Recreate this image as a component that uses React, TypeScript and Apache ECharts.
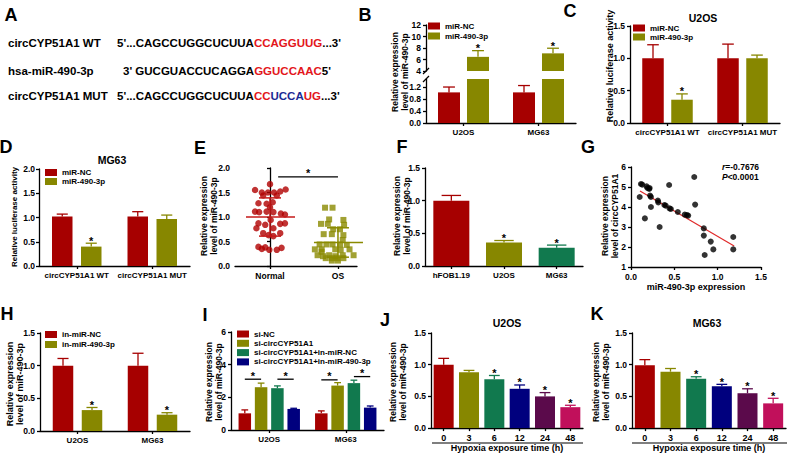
import React, { useEffect, useRef } from 'react';
import * as echarts from 'echarts';

const FONT = '"Liberation Sans", Arial, Helvetica, sans-serif';

// ---------------- Panel A: sequences ----------------
const seqRowLabels = ['circCYP51A1 WT', 'hsa-miR-490-3p', 'circCYP51A1 MUT'];
const seqRows: [string, string][][] = [
  [["5'...CAGCCUGGCUCUUA", 'k'], ['CCAGGUUG', 'r'], ["...3'", 'k']],
  [["3' GUCGUACCUCAGGA", 'k'], ['GGUCCAAC', 'r'], ["5'", 'k']],
  [["5'...CAGCCUGGCUCUUA", 'k'], ['CC', 'r'], ['UCCA', 'b'], ['UG', 'r'], ["...3'", 'k']],
];

// ---------------- Panel B ----------------
const bCats = ['U2OS', 'MG63'];
const bNC = [1.03, 1.03];
const bNCErr = [1.21, 1.26];
const b490 = [6.46, 7.07];
const b490Err = [7.54, 7.96];
const b490Sig = [1, 1];
const bUpperTicks = [4, 12, 2];
const bLowerTicks = [0, 0.4, 0.8, 1.2];

// ---------------- Panel C / D ----------------
const lucCats = ['circCYP51A1 WT', 'circCYP51A1 MUT'];
const cNC = [1.0, 1.0];
const cNCErr = [1.21, 1.22];
const c490 = [0.36, 1.0];
const c490Err = [0.45, 1.05];
const c490Sig = [1, 0];
const dNC = [1.02, 1.02];
const dNCErr = [1.07, 1.12];
const d490 = [0.4, 0.97];
const d490Err = [0.47, 1.05];
const d490Sig = [1, 0];

// ---------------- Panel E (offset within group, value) ----------------
const eCats = ['Normal', 'OS'];
const eNormal: [number, number][] = [
  [0.0, 1.67], [-0.22, 1.55], [-0.12, 1.5], [-0.03, 1.5], [0.06, 1.5], [0.15, 1.52], [0.23, 1.56],
  [-0.1, 1.44], [0.1, 1.44], [-0.17, 1.28], [-0.05, 1.27], [0.04, 1.3], [-0.22, 1.11], [-0.16, 1.1],
  [-0.05, 1.11], [0.05, 1.1], [0.16, 1.07], [0.0, 1.2], [0.22, 1.05], [-0.17, 0.87], [-0.07, 0.84],
  [0.15, 0.86], [0.22, 0.87], [-0.2, 0.77], [0.05, 0.77], [-0.1, 0.67], [0.15, 0.67], [-0.02, 0.63],
  [0.05, 0.61], [-0.17, 0.39], [-0.07, 0.38], [-0.12, 0.35], [-0.01, 0.33], [0.1, 0.33], [0.17, 0.37],
  [0.01, 0.94],
];
const eOS: [number, number][] = [
  [-0.19, 1.19], [-0.08, 1.19], [-0.13, 0.95], [0.08, 0.94], [-0.25, 0.86], [-0.15, 0.86], [0.09, 0.84],
  [-0.07, 0.75], [0.03, 0.75], [-0.21, 0.65], [-0.09, 0.65], [0.08, 0.63], [0.07, 0.53], [-0.27, 0.44],
  [-0.17, 0.44], [-0.08, 0.44], [0.03, 0.44], [0.13, 0.43], [-0.34, 0.34], [-0.24, 0.34], [-0.04, 0.34],
  [0.04, 0.33], [0.17, 0.34], [-0.3, 0.22], [-0.22, 0.2], [-0.13, 0.22], [-0.04, 0.2], [0.07, 0.22],
  [0.23, 0.22], [-0.18, 0.16], [-0.09, 0.16], [-0.01, 0.16], [0.08, 0.16], [-0.09, 0.11], [0.0, 0.11],
  [-0.24, 0.29],
];
const eMeanSD: [number, number, number][] = [[0, 1.0, 0.39], [1, 0.48, 0.3]];
const eSigBar: [number, number, number][] = [[0.12, 1.0, 1.82]];

// ---------------- Panel F ----------------
const fCats = ['hFOB1.19', 'U2OS', 'MG63'];
const fVals = [1.0, 0.36, 0.28];
const fErr = [1.08, 0.39, 0.32];
const fSig = [0, 1, 1];

// ---------------- Panel G ----------------
const gPoints: [number, number][] = [
  [0.1, 4.5], [0.115, 5.15], [0.13, 5.12], [0.16, 3.43], [0.18, 5.03], [0.19, 4.95], [0.21, 4.9],
  [0.215, 4.95], [0.22, 4.57], [0.23, 4.5], [0.23, 4.0], [0.31, 4.32], [0.315, 4.23], [0.33, 3.0],
  [0.385, 4.1], [0.4, 4.07], [0.44, 5.1], [0.445, 3.93], [0.46, 3.9], [0.54, 3.75], [0.62, 3.62],
  [0.645, 3.6], [0.66, 3.57], [0.73, 5.5], [0.74, 4.12], [0.84, 2.93], [0.84, 2.57], [0.85, 1.6],
  [0.92, 2.27], [0.95, 1.88], [1.18, 2.5], [1.18, 1.88],
];
const gFit: [number, number][] = [[0.104, 4.8], [1.19, 2.05]];
const gStats = ['{i|r}=-0.7676', '{i|P}<0.0001'];

// ---------------- Panel H ----------------
const hNC = [1.0, 1.0];
const hNCErr = [1.11, 1.19];
const h490 = [0.32, 0.25];
const h490Err = [0.36, 0.28];
const h490Sig = [1, 1];

// ---------------- Panel I ----------------
const iNames = ['si-NC', 'si-circCYP51A1', 'si-circCYP51A1+in-miR-NC', 'si-circCYP51A1+in-miR-490-3p'];
const iVals = [[1.02, 1.02], [2.62, 2.72], [2.56, 2.87], [1.29, 1.37]];
const iErr = [[1.23, 1.17], [2.87, 2.9], [2.7, 3.05], [1.33, 1.47]];
const iBrackets: [number, number, number, number][] = [[0, 0, 1, 3.11], [0, 2, 3, 3.11], [1, 0, 1, 3.07], [1, 2, 3, 3.27]];

// ---------------- Panel J / K ----------------
const hypoxiaHours = ['0', '3', '6', '12', '24', '48'];
const jVals = [1.0, 0.88, 0.77, 0.62, 0.5, 0.33];
const jErr = [1.1, 0.91, 0.83, 0.68, 0.56, 0.36];
const kVals = [0.99, 0.89, 0.78, 0.66, 0.55, 0.39];
const kErr = [1.08, 0.94, 0.81, 0.69, 0.62, 0.47];
const hypoxiaSig = [0, 0, 1, 1, 1, 1];

// ---------------- colours ----------------
const RED = '#a60000';
const OLIVE = '#878700';
const GREEN = '#11794e';
const NAVY = '#00007e';
const PURPLE = '#5b0a4b';
const CRIMSON = '#c1105b';
const hypoxiaColors = [RED, OLIVE, GREEN, NAVY, PURPLE, CRIMSON];
const fColors = [RED, OLIVE, GREEN];
const iColors = [RED, OLIVE, GREEN, NAVY];

type BarSet = { name: string; vals: (number | null)[]; errs: number[]; sigs: number[]; colors: string[] };

function buildOption() {
  const grid: any[] = [];
  const xAxis: any[] = [];
  const yAxis: any[] = [];
  const series: any[] = [];
  const legend: any[] = [];
  const elements: any[] = [];
  const AX = { color: '#000', width: 1.3 };

  const addGrid = (left: number, top: number, width: number, height: number) => {
    grid.push({ left, top, width, height });
    return grid.length - 1;
  };
  const valueY = (gi: number, min: number, max: number, interval: number | undefined, dec: number, ticks?: number[], margin = 5) => {
    const cfg: any = {
      type: 'value', gridIndex: gi, min, max,
      axisLine: { show: true, lineStyle: AX },
      axisTick: { show: true, length: 3, lineStyle: AX },
      splitLine: { show: false },
      axisLabel: { color: '#000', fontSize: 8.5, fontWeight: 'bold', fontFamily: FONT, margin, formatter: (v: number) => v.toFixed(dec) },
    };
    if (interval !== undefined) cfg.interval = interval;
    if (ticks) {
      cfg.axisTick.customValues = ticks;
      cfg.axisLabel.customValues = ticks;
    }
    yAxis.push(cfg);
    return yAxis.length - 1;
  };
  const catX = (gi: number, data: string[], show = true, extra: any = {}) => {
    xAxis.push({
      type: 'category', gridIndex: gi, data, show,
      axisLine: { show: true, lineStyle: AX },
      axisTick: { show: true, alignWithLabel: true, length: 3, lineStyle: AX },
      axisLabel: { color: '#000', fontSize: 8, fontWeight: 'bold', fontFamily: FONT, margin: 5, interval: 0 },
      ...extra,
    });
    return xAxis.length - 1;
  };

  const errRender = (offset: number, capHalf: number, colors: string[], yMin: number, yMax: number) =>
    (params: any, api: any) => {
      const i = api.value(0), v = api.value(1), e = api.value(2), s = api.value(3);
      if (!isFinite(v) || v < yMin || e > yMax) return null;
      const p0 = api.coord([i, v]);
      const p1 = api.coord([i, e]);
      const x = p0[0] + offset;
      const color = colors[params.dataIndex % colors.length];
      const children: any[] = [
        { type: 'line', shape: { x1: x, y1: p0[1], x2: x, y2: p1[1] }, style: { stroke: color, lineWidth: 1.3 } },
        { type: 'line', shape: { x1: x - capHalf, y1: p1[1], x2: x + capHalf, y2: p1[1] }, style: { stroke: color, lineWidth: 1.3 } },
      ];
      if (s) children.push({ type: 'text', x, y: p1[1] + 3, style: { text: '*', fill: '#000', fontSize: 11, fontWeight: 'bold', fontFamily: FONT, align: 'center', verticalAlign: 'bottom' } });
      return { type: 'group', children };
    };

  const addBars = (xi: number, yi: number, sets: BarSet[], bw: number, gap: number, yMin: number, yMax: number) => {
    const n = sets.length;
    const total = n * bw + (n - 1) * gap;
    const offsets: number[] = [];
    sets.forEach((s, k) => {
      const off = -total / 2 + bw / 2 + k * (bw + gap);
      offsets.push(off);
      series.push({
        type: 'bar', name: s.name, xAxisIndex: xi, yAxisIndex: yi, barWidth: bw, barGap: `${(gap / bw) * 100}%`,
        itemStyle: { color: s.colors[0] }, silent: true, clip: true,
        data: s.vals.map((v, i) => ({ value: v == null ? '-' : v, itemStyle: { color: s.colors[i % s.colors.length] } })),
      });
      series.push({
        type: 'custom', xAxisIndex: xi, yAxisIndex: yi, silent: true, z: 3,
        data: s.vals.map((v, i) => [i, v == null ? NaN : v, s.errs[i], s.sigs[i]]),
        renderItem: errRender(off, bw * 0.27, s.colors, yMin, yMax),
      });
    });
    return offsets;
  };

  // ---------- B (broken axis) ----------
  const gBU = addGrid(426, 25, 150, 46);
  const xBU = catX(gBU, bCats, false);
  const yBU = valueY(gBU, bUpperTicks[0], bUpperTicks[1], bUpperTicks[2], 0);
  const gBL = addGrid(426, 79, 150, 44);
  const xBL = catX(gBL, bCats);
  const yBL = valueY(gBL, 0, 1.48, undefined, 1, bLowerTicks);
  const upMin = bUpperTicks[0];
  addBars(xBU, yBU, [
    { name: 'miR-NC', vals: bNC.map((v) => (v >= upMin ? v : null)), errs: bNCErr, sigs: [0, 0], colors: [RED] },
    { name: 'miR-490-3p', vals: b490, errs: b490Err, sigs: b490Sig, colors: [OLIVE] },
  ], 22, 7, upMin, 12);
  addBars(xBL, yBL, [
    { name: 'miR-NC', vals: bNC, errs: bNCErr, sigs: [0, 0], colors: [RED] },
    { name: 'miR-490-3p', vals: b490, errs: b490Err, sigs: b490Sig, colors: [OLIVE] },
  ], 22, 7, 0, 1.48);

  // ---------- C ----------
  const gC = addGrid(630, 26, 150, 97);
  const xC = catX(gC, lucCats);
  const yC = valueY(gC, 0, 1.5, 0.5, 1);
  addBars(xC, yC, [
    { name: 'miR-NC', vals: cNC, errs: cNCErr, sigs: [0, 0], colors: [RED] },
    { name: 'miR-490-3p', vals: c490, errs: c490Err, sigs: c490Sig, colors: [OLIVE] },
  ], 21.5, 7.5, 0, 1.5);

  // ---------- D ----------
  const gD = addGrid(39, 169, 151, 97);
  const xD = catX(gD, lucCats);
  const yD = valueY(gD, 0, 2, 0.5, 1, undefined, 4);
  addBars(xD, yD, [
    { name: 'miR-NC', vals: dNC, errs: dNCErr, sigs: [0, 0], colors: [RED] },
    { name: 'miR-490-3p', vals: d490, errs: d490Err, sigs: d490Sig, colors: [OLIVE] },
  ], 20.5, 8.5, 0, 2);

  // ---------- E ----------
  const gE = addGrid(235, 168, 122, 98);
  xAxis.push({
    type: 'value', gridIndex: gE, min: -0.515, max: 1.28,
    axisLine: { show: true, lineStyle: AX },
    axisTick: { show: true, length: 3, lineStyle: AX, customValues: [0, 1] },
    splitLine: { show: false },
    axisLabel: { color: '#000', fontSize: 8.5, fontWeight: 'bold', fontFamily: FONT, margin: 5, customValues: [0, 1], formatter: (v: number) => eCats[Math.round(v)] },
  });
  const xE = xAxis.length - 1;
  const yE = valueY(gE, 0, 2, 0.5, 1);
  series.push({
    type: 'scatter', xAxisIndex: xE, yAxisIndex: yE, symbol: 'circle', symbolSize: 6.5, silent: true,
    itemStyle: { color: '#b00000' }, data: eNormal.map((p) => [0 + p[0], p[1]]),
  });
  series.push({
    type: 'scatter', xAxisIndex: xE, yAxisIndex: yE, symbol: 'rect', symbolSize: 6, silent: true,
    itemStyle: { color: '#8a8a00' }, data: eOS.map((p) => [1 + p[0], p[1]]),
  });
  const eLineColors = ['#c41818', '#8a8a00'];
  series.push({
    type: 'custom', xAxisIndex: xE, yAxisIndex: yE, silent: true, z: 4, data: eMeanSD,
    renderItem: (params: any, api: any) => {
      const x = api.value(0), m = api.value(1), sd = api.value(2);
      const pm = api.coord([x, m]), pt = api.coord([x, m + sd]), pb = api.coord([x, m - sd]);
      const st = { stroke: eLineColors[params.dataIndex], lineWidth: 1.5 };
      return {
        type: 'group', children: [
          { type: 'line', shape: { x1: pm[0], y1: pt[1], x2: pm[0], y2: pb[1] }, style: st },
          { type: 'line', shape: { x1: pm[0] - 11, y1: pt[1], x2: pm[0] + 11, y2: pt[1] }, style: st },
          { type: 'line', shape: { x1: pm[0] - 11, y1: pb[1], x2: pm[0] + 11, y2: pb[1] }, style: st },
          { type: 'line', shape: { x1: pm[0] - 24, y1: pm[1], x2: pm[0] + 25, y2: pm[1] }, style: st },
        ],
      };
    },
  });
  series.push({
    type: 'custom', xAxisIndex: xE, yAxisIndex: yE, silent: true, z: 4, data: eSigBar,
    renderItem: (params: any, api: any) => {
      const a = api.coord([api.value(0), api.value(2)]);
      const b = api.coord([api.value(1), api.value(2)]);
      return {
        type: 'group', children: [
          { type: 'line', shape: { x1: a[0], y1: a[1], x2: b[0], y2: b[1] }, style: { stroke: '#000', lineWidth: 1.3 } },
          { type: 'text', x: (a[0] + b[0]) / 2, y: a[1] + 2, style: { text: '*', fill: '#000', fontSize: 11, fontWeight: 'bold', fontFamily: FONT, align: 'center', verticalAlign: 'bottom' } },
        ],
      };
    },
  });

  // ---------- F ----------
  const gF = addGrid(425, 168, 158, 98);
  const xF = catX(gF, fCats);
  const yF = valueY(gF, 0, 1.5, 0.5, 1);
  addBars(xF, yF, [{ name: 'F-bars', vals: fVals, errs: fErr, sigs: fSig, colors: fColors }], 36, 0, 0, 1.5);

  // ---------- G ----------
  const gG = addGrid(631, 167, 130, 100);
  xAxis.push({
    type: 'value', gridIndex: gG, min: 0, max: 1.5, interval: 0.5,
    axisLine: { show: true, lineStyle: AX }, axisTick: { show: true, length: 3, lineStyle: AX }, splitLine: { show: false },
    axisLabel: { color: '#000', fontSize: 8.5, fontWeight: 'bold', fontFamily: FONT, margin: 5, formatter: (v: number) => v.toFixed(1) },
    name: 'miR-490-3p expression', nameLocation: 'middle', nameGap: 15,
    nameTextStyle: { color: '#000', fontSize: 9, fontWeight: 'bold', fontFamily: FONT },
  });
  const xG = xAxis.length - 1;
  const yG = valueY(gG, 1, 6, 1, 0);
  series.push({
    type: 'line', xAxisIndex: xG, yAxisIndex: yG, data: gFit, symbol: 'none', silent: true,
    lineStyle: { color: '#e02a2a', width: 1.2 }, z: 1,
  });
  series.push({
    type: 'scatter', xAxisIndex: xG, yAxisIndex: yG, data: gPoints, symbol: 'circle', symbolSize: 6, silent: true,
    itemStyle: { color: '#000' }, z: 2,
  });

  // ---------- H ----------
  const gH = addGrid(40, 333, 150, 98);
  const xH = catX(gH, bCats);
  const yH = valueY(gH, 0, 1.5, 0.5, 1);
  addBars(xH, yH, [
    { name: 'in-miR-NC', vals: hNC, errs: hNCErr, sigs: [0, 0], colors: [RED] },
    { name: 'in-miR-490-3p', vals: h490, errs: h490Err, sigs: h490Sig, colors: [OLIVE] },
  ], 20.5, 8.5, 0, 1.5);

  // ---------- I ----------
  const gI = addGrid(231, 332, 153, 98);
  const xI = catX(gI, bCats);
  const yI = valueY(gI, 0, 6, 2, 0);
  const iOffsets = addBars(xI, yI, iNames.map((name, k) => ({
    name, vals: iVals[k], errs: iErr[k], sigs: [0, 0], colors: [iColors[k]],
  })), 12.5, 3.8, 0, 6);
  series.push({
    type: 'custom', xAxisIndex: xI, yAxisIndex: yI, silent: true, z: 4, data: iBrackets,
    renderItem: (params: any, api: any) => {
      const p = api.coord([api.value(0), api.value(3)]);
      const x1 = p[0] + iOffsets[api.value(1)];
      const x2 = p[0] + iOffsets[api.value(2)];
      return {
        type: 'group', children: [
          { type: 'line', shape: { x1, y1: p[1], x2, y2: p[1] }, style: { stroke: '#000', lineWidth: 1.3 } },
          { type: 'text', x: (x1 + x2) / 2, y: p[1] + 2, style: { text: '*', fill: '#000', fontSize: 11, fontWeight: 'bold', fontFamily: FONT, align: 'center', verticalAlign: 'bottom' } },
        ],
      };
    },
  });

  // ---------- J / K ----------
  const hypoxiaName = {
    name: 'Hypoxia exposure time (h)', nameLocation: 'middle', nameGap: 13.5,
    nameTextStyle: { color: '#000', fontSize: 9, fontWeight: 'bold', fontFamily: FONT },
  };
  const gJ = addGrid(431, 333, 152, 97);
  const xJ = catX(gJ, hypoxiaHours, true, hypoxiaName);
  xAxis[xJ].axisLabel.fontSize = 9;
  const yJ = valueY(gJ, 0, 1.5, 0.5, 1);
  addBars(xJ, yJ, [{ name: 'J-bars', vals: jVals, errs: jErr, sigs: hypoxiaSig, colors: hypoxiaColors }], 20, 0, 0, 1.5);
  const gK = addGrid(632, 333, 154, 97);
  const xK = catX(gK, hypoxiaHours, true, hypoxiaName);
  xAxis[xK].axisLabel.fontSize = 9;
  const yK = valueY(gK, 0, 1.5, 0.5, 1);
  addBars(xK, yK, [{ name: 'K-bars', vals: kVals, errs: kErr, sigs: hypoxiaSig, colors: hypoxiaColors }], 20, 0, 0, 1.5);

  // ---------- legends ----------
  const lg = (left: number, top: number, data: string[], itemGap: number) => ({
    left, top, data, itemGap, orient: 'vertical', itemWidth: 12, itemHeight: 7, icon: 'rect', padding: 0,
    selectedMode: false, textStyle: { fontSize: 8, fontWeight: 'bold', color: '#000', fontFamily: FONT, lineHeight: 9 },
  });
  legend.push(lg(428, 21.5, ['miR-NC', 'miR-490-3p'], 1));
  legend.push(lg(633, 23.5, ['miR-NC', 'miR-490-3p'], 0));
  legend.push(lg(45, 168, ['miR-NC', 'miR-490-3p'], 0));
  legend.push(lg(45, 330, ['in-miR-NC', 'in-miR-490-3p'], 1));
  legend.push(lg(237, 329.5, iNames, 0.3));

  // ---------- graphic texts ----------
  const txt = (x: number, y: number, text: string, size: number, extra: any = {}, rot = 0) => ({
    type: 'text', x, y, rotation: rot, silent: true,
    style: { text, fill: '#000', fontSize: size, fontWeight: 'bold', fontFamily: FONT, align: 'center', verticalAlign: 'middle', ...extra },
  });
  const letters: [string, number, number][] = [
    ['A', 11, 15], ['B', 365, 15], ['C', 570, 11], ['D', 6, 147], ['E', 200, 148], ['F', 402, 147],
    ['G', 588, 147], ['H', 7, 314], ['I', 205, 315], ['J', 385, 320], ['K', 597, 314],
  ];
  letters.forEach(([t, x, y]) => elements.push(txt(x, y, t, 18)));

  const rowY = [43, 71, 96];
  const seqX = [117, 123, 117];
  const rich: any = {
    k: { fill: '#000', fontSize: 11.5, fontWeight: 'bold', fontFamily: FONT },
    r: { fill: '#e3161b', fontSize: 11.5, fontWeight: 'bold', fontFamily: FONT },
    b: { fill: '#1b2a94', fontSize: 11.5, fontWeight: 'bold', fontFamily: FONT },
  };
  seqRowLabels.forEach((lab, i) => {
    elements.push(txt(8, rowY[i], lab, 11.5, { align: 'left' }));
    const t = seqRows[i].map(([s, c]) => `{${c}|${s}}`).join('');
    elements.push(txt(seqX[i], rowY[i], t, 11.5, { align: 'left', rich }));
  });

  const titles: [string, number, number][] = [['U2OS', 703, 18], ['MG63', 112, 160], ['U2OS', 507, 323], ['MG63', 707, 323]];
  titles.forEach(([t, x, y]) => elements.push(txt(x, y, t, 10.5)));

  const REL = 'Relative expression\nlevel of miR-490-3p';
  const yTitles: [string, number, number, number][] = [
    [REL, 400, 72, 8.5],
    ['Relative luciferase activity', 610, 66, 9],
    ['Relative luciferase activity', 14, 217, 8],
    [REL, 209, 216, 8.5],
    [REL, 402, 216, 8.5],
    ['Relative expression\nlevel of circCYP51A1', 610, 216, 8.5],
    [REL, 15, 384, 9],
    [REL, 214, 382, 8.5],
    [REL, 398, 382, 8.5],
    [REL, 601, 382, 8.5],
  ];
  yTitles.forEach(([t, x, y, s]) => elements.push(txt(x, y, t, s, { lineHeight: s + 1.5 }, Math.PI / 2)));

  gStats.forEach((t, i) => elements.push(txt(722, 167 + i * 10, t, 8.5, {
    align: 'left',
    rich: {
      i: { fontStyle: 'italic', fontWeight: 'bold', fontSize: 8.5, fontFamily: FONT, fill: '#000' },
    },
  })));

  // broken-axis marks for B
  const ln = (x1: number, y1: number, x2: number, y2: number) => ({
    type: 'line', silent: true, shape: { x1, y1, x2, y2 }, style: { stroke: '#000', lineWidth: 1.2 },
  });
  elements.push(ln(423, 74, 429, 68));
  elements.push(ln(423, 82, 429, 76));
  // group lines under hypoxia time labels
  elements.push(ln(432, 443, 583, 443));
  elements.push(ln(632, 443, 787, 443));

  return {
    animation: false,
    backgroundColor: '#fff',
    textStyle: { fontFamily: FONT },
    grid, xAxis, yAxis, series, legend,
    graphic: { elements },
  };
}

export default function App() {
  const ref = useRef<HTMLDivElement>(null);
  useEffect(() => {
    if (!ref.current) return;
    const chart = echarts.init(ref.current, undefined, { renderer: 'svg' });
    chart.setOption(buildOption() as any);
    return () => chart.dispose();
  }, []);
  return <div ref={ref} style={{ position: 'absolute', left: 0, top: 0, width: 787, height: 453, background: '#fff' }} />;
}
